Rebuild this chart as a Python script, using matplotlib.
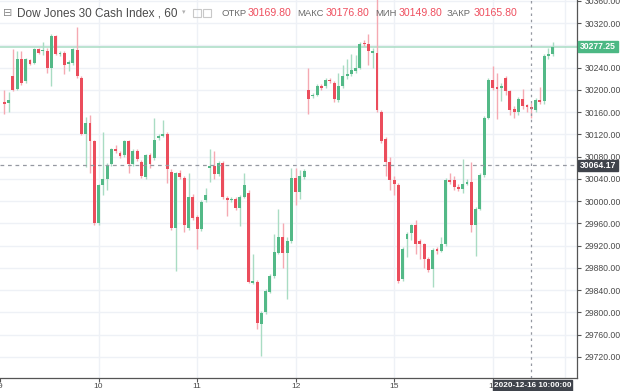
import matplotlib
matplotlib.use('Agg')
import matplotlib.pyplot as plt
from matplotlib.patches import Rectangle

plt.rcParams['font.family'] = ['Liberation Sans', 'DejaVu Sans']

# ---- data (hourly candles, Dow Jones 30 Cash Index) ----
opens = [30178, 30176, 30225, 30202, 30255, 30215, 30253, 30249, 30273, 30269,
         30270, 30240, 30297, 30264, 30267, 30246, 30248, 30272, 30222, 30121,
         30140, 30108, 29960, 30028, 30039, 30066, 30094, 30087, 30082, 30107,
         30066, 30090, 30070, 30044, 30082, 30077, 30114, 30117, 30121, 30053,
         29952, 30050, 30041, 29952, 30007, 29972, 29949, 30002, 30059, 30063,
         30048, 30069, 30006, 30002, 30004, 29987, 30008, 30014, 29853, 29854,
         29779, 29800, 29837, 29865, 29907, 29935, 29907, 29928, 30041, 30016,
         30043, 30199, 30188, 30191, 30207, 30207, 30218, 30213, 30181, 30206,
         30224, 30228, 30234, 30240, 30284, 30282, 30267, 30267, 30160, 30112,
         30070, 30038, 30029, 29859, 29932, 29943, 29957, 29928, 29922, 29896,
         29877, 29914, 29911, 29923, 30038, 30037, 30026, 30021, 30031, 30035,
         29957, 29986, 30047, 30150, 30218, 30205, 30204, 30221, 30197, 30166,
         30160, 30184, 30172, 30169.8, 30164, 30182, 30179, 30261, 30264]
highs = [30199, 30196, 30273, 30270, 30270, 30258, 30256, 30276, 30276, 30285,
         30276, 30300, 30299, 30270, 30270, 30254, 30276, 30312, 30225, 30151,
         30154, 30110, 30030, 30124, 30068, 30095, 30100, 30090, 30110, 30110,
         30093, 30093, 30073, 30085, 30086, 30149, 30120, 30145, 30124, 30058,
         30053, 30055, 30045, 30050, 30012, 29975, 30002, 30024, 30094, 30090,
         30072, 30072, 30009, 30007, 30007, 30010, 30050, 30020, 29905, 29858,
         29802, 29841, 29868, 29940, 29985, 29960, 29935, 30060, 30060, 30055,
         30058, 30240, 30195, 30210, 30210, 30222, 30222, 30216, 30230, 30245,
         30255, 30265, 30262, 30286, 30290, 30300, 30275, 30365, 30163, 30115,
         30080, 30045, 30032, 29918, 29945, 29959, 29965, 29932, 29925, 29900,
         29915, 29918, 29935, 30042, 30050, 30045, 30030, 30075, 30040, 30071,
         29990, 30050, 30153, 30222, 30242, 30230, 30212, 30225, 30200, 30170,
         30187, 30202, 30175, 30176.8, 30185, 30205, 30264, 30275, 30285]
lows = [30157, 30160, 30197, 30199, 30209, 30212, 30244, 30246, 30264, 30263,
        30231, 30207, 30262, 30260, 30229, 30234, 30245, 30222, 30118, 30061,
        30050, 29957, 29957, 30011, 30020, 30063, 30087, 30078, 30080, 30050,
        30063, 30072, 30042, 30040, 30060, 30074, 30110, 30115, 30033, 29948,
        29874, 30040, 29945, 29947, 29965, 29913, 29946, 29998, 30035, 30040,
        30045, 30004, 29973, 29999, 29984, 29955, 30005, 29852, 29850, 29770,
        29722, 29797, 29834, 29862, 29904, 29880, 29823, 29925, 29993, 30003,
        30040, 30157, 30185, 30188, 30200, 30204, 30212, 30178, 30178, 30203,
        30220, 30225, 30230, 30237, 30279, 30245, 30240, 30160, 30105, 30045,
        30020, 30010, 29852, 29856, 29900, 29930, 29905, 29895, 29880, 29873,
        29845, 29905, 29908, 29920, 30030, 30020, 30018, 30015, 30028, 29945,
        29901, 29983, 30044, 30147, 30200, 30148, 30180, 30190, 30155, 30150,
        30155, 30165, 30160, 30149.8, 30160, 30175, 30175, 30255, 30260]
closes = [30175, 30182, 30199, 30255, 30213, 30255, 30247, 30273, 30267, 30270,
          30240, 30297, 30264, 30267, 30244, 30250, 30273, 30225, 30121, 30140,
          30108, 29960, 30028, 30039, 30065, 30093, 30090, 30081, 30107, 30066,
          30090, 30075, 30045, 30082, 30066, 30109, 30117, 30120, 30057, 29952,
          30050, 30043, 29957, 30007, 29969, 29949, 29999, 30011, 30063, 30048,
          30069, 30007, 30002, 30004, 29987, 30007, 30029, 29855, 29856, 29781,
          29798, 29838, 29865, 29908, 29935, 29907, 29928, 30041, 30016, 30045,
          30054, 30184, 30191, 30207, 30204, 30218, 30215, 30184, 30206, 30224,
          30228, 30235, 30240, 30283, 30282, 30269, 30270, 30163, 30108, 30070,
          30038, 30031, 29856, 29914, 29940, 29956, 29922, 29922, 29896, 29876,
          29912, 29911, 29923, 30038, 30035, 30026, 30021, 30031, 30035, 29956,
          29986, 30047, 30150, 30218, 30203, 30202, 30207, 30197, 30163, 30160,
          30184, 30170, 30169, 30165.8, 30182, 30178, 30261, 30264, 30277.25]

day_labels = ["9", "10", "11", "12", "15", "16"]
day_positions = [-1, 22, 45, 68, 91, 114]
price_ticks = [29720, 29760, 29800, 29840, 29880, 29920, 29960, 30000, 30040,
               30080, 30120, 30160, 30200, 30240, 30280, 30320, 30360]

last_price = 30277.25
cross_price = 30064.17
cross_index = 123
cross_time = "2020-12-16 10:00:00"
title = "Dow Jones 30 Cash Index , 60"
ohlc_names = ["ОТКР", "МАКС", "МИН", "ЗАКР"]
ohlc_values = ["30169.80", "30176.80", "30149.80", "30165.80"]

# ---- style ----
W, H = 620, 391
GREEN = '#53b987'
RED = '#eb4d5c'
GREEN_W = '#a9dcc3'
RED_W = '#f5a9b2'
GRID = '#eef1f6'
TXT = '#4a4a4a'

def fx(px):
    return px / W

def fy(py):
    return 1 - py / H

fig = plt.figure(figsize=(W / 100, H / 100), dpi=100)
plot_right, plot_bottom = 577, 378
ax = fig.add_axes([0, fy(plot_bottom), fx(plot_right), plot_bottom / H])

ax.set_xlim(-0.865, 133.67)
ax.set_ylim(29681.8, 30361.4)

# grid
for p in price_ticks:
    ax.axhline(p, color=GRID, lw=1, zorder=0)
for d in day_positions[1:]:
    ax.axvline(d, color=GRID, lw=1, zorder=0)
ax.axvline(130.9, color=GRID, lw=1, zorder=0)

# candles
for i, (o, h, l, c) in enumerate(zip(opens, highs, lows, closes)):
    up = c >= o
    ax.vlines(i, l, h, color=GREEN_W if up else RED_W, lw=1, zorder=2)
    bottom = min(o, c)
    height = max(abs(c - o), 2.0)
    ax.bar(i, height, bottom=bottom, width=0.68, color=GREEN if up else RED,
           zorder=3, linewidth=0)

# last price line and crosshair
ax.axhline(last_price, color='#a8dcc4', lw=1.1, zorder=1)
ax.axhline(cross_price, color='#9598a1', lw=0.9, ls=(0, (3, 3)), zorder=4)
ax.axvline(cross_index, color='#9598a1', lw=0.9, ls=(0, (2, 3)), zorder=4)

# axes styling
for s in ['top', 'left']:
    ax.spines[s].set_visible(False)
ax.spines['right'].set_color('#555555')
ax.spines['bottom'].set_color('#555555')
ax.spines['right'].set_linewidth(0.9)
ax.spines['bottom'].set_linewidth(0.9)
ax.yaxis.tick_right()
ax.set_yticks(price_ticks)
# the 30280 label is hidden behind the last-price box in the original
ax.set_yticklabels(["" if p == 30280 else f"{p:.2f}" for p in price_ticks])
ax.tick_params(axis='y', length=3, pad=2.5, labelsize=6.2, colors='#555555',
               labelcolor=TXT)
ax.set_xticks(day_positions)
ax.set_xticklabels(day_labels)
ax.tick_params(axis='x', length=3, pad=0.3, labelsize=6.0, colors='#555555',
               labelcolor=TXT)

# price labels boxes on right axis
def ybox(price, text, color):
    ypx = 23 + (30320 - price) * 0.5562
    fig.patches.append(Rectangle((fx(578), fy(ypx + 5.5)), fx(40), 11 / H,
                                 transform=fig.transFigure, color=color,
                                 zorder=10))
    fig.text(fx(598), fy(ypx), text, color='white', fontsize=6.2,
             ha='center', va='center', zorder=11, fontweight='bold')

ybox(last_price, f"{last_price:.2f}", '#4cb884')
ybox(cross_price, f"{cross_price:.2f}", '#3f434b')

# time label box
fig.patches.append(Rectangle((fx(493), fy(391)), fx(79), 11 / H,
                             transform=fig.transFigure, color='#3f434b',
                             zorder=10))
fig.text(fx(532.5), fy(385.5), cross_time, color='white', fontsize=5.9,
         ha='center', va='center', zorder=11, fontweight='bold')

# header
fig.text(fx(3), fy(13), "⊟", color='#8a8a8a', fontsize=8,
         family='DejaVu Sans', ha='left', va='center')
fig.text(fx(17), fy(13), title, color=TXT, fontsize=8.5, ha='left',
         va='center')
fig.text(fx(182), fy(12), "▾", color='#b0b0b0', fontsize=5,
         family='DejaVu Sans', ha='left', va='center')
for xp in (193, 203):
    fig.patches.append(Rectangle((fx(xp), fy(17)), fx(8), 8 / H,
                                 transform=fig.transFigure, fill=False,
                                 edgecolor='#c8c8c8', lw=0.8))
name_x = [221, 297, 375, 447]
val_x = [248, 326, 399, 474]
for nm, v, nx, vx in zip(ohlc_names, ohlc_values, name_x, val_x):
    fig.text(fx(nx), fy(13), nm, color='#6a6a6a', fontsize=6.8, ha='left',
             va='center')
    fig.text(fx(vx), fy(13), v, color='#ef4f5f', fontsize=7.6, ha='left',
             va='center')

fig.savefig('out.png', dpi=100, facecolor='white')
